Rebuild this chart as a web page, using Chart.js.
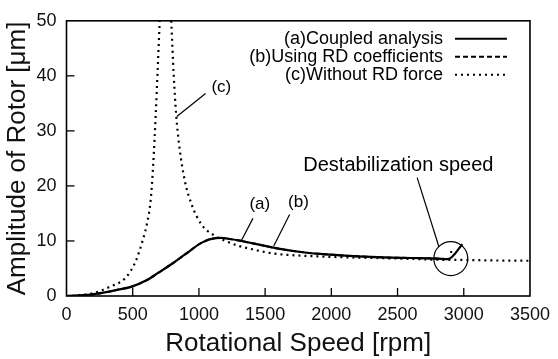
<!DOCTYPE html>
<html>
<head>
<meta charset="utf-8">
<script src="https://cdn.jsdelivr.net/npm/chart.js@4.4.1/dist/chart.umd.min.js"></script>
<style>
  html, body { margin: 0; padding: 0; background: #fff; }
</style>
</head>
<body>
<canvas id="grafico" width="558" height="359"></canvas>
<script>
// valores
const speedA = [0, 100, 200, 300, 400, 487, 600, 698, 800, 898, 1022, 1122, 1170, 1220, 1300, 1400, 1500, 1600, 1800, 2000, 2200, 2400, 2600, 2800, 2880, 2990];
const ampA   = [0, 0.1, 0.3, 0.7, 1.2, 1.65, 2.8, 4.3, 5.9, 7.6, 9.7, 10.5, 10.55, 10.4, 10.1, 9.6, 9.1, 8.6, 7.9, 7.5, 7.2, 7.0, 6.9, 6.8, 6.7, 9.4];

const speedB = [0, 100, 200, 300, 400, 487, 600, 698, 800, 898, 1022, 1122, 1170, 1220, 1300, 1400, 1500, 1600, 1800, 2000, 2200, 2400, 2600, 2800, 2880];
const ampB   = [0, 0.1, 0.3, 0.7, 1.2, 1.65, 2.8, 4.3, 5.9, 7.6, 9.7, 10.5, 10.55, 10.4, 10.1, 9.6, 9.1, 8.6, 7.9, 7.5, 7.2, 7.0, 6.9, 6.8, 6.7];

const speedC = [0, 100, 200, 325, 450, 524, 574, 611, 636, 655, 674, 690, 704, 748, 791, 810, 828, 853, 893, 947, 1022, 1109, 1200, 1300, 1400, 1570, 1800, 2000, 2340, 2600, 2790, 3000, 3250, 3500];
const ampC   = [0, 0.15, 0.5, 1.65, 3.4, 6.4, 10.0, 13.5, 17.5, 24.0, 33.0, 42.0, 50.0, null, 50.0, 40.0, 33.0, 27.0, 21.0, 16.5, 12.9, 11.1, 10.0, 9.1, 8.5, 7.7, 7.3, 7.1, 6.9, 6.75, 6.6, 6.55, 6.45, 6.4];

const xTicks = [0, 500, 1000, 1500, 2000, 2500, 3000, 3500];
const yTicks = [0, 10, 20, 30, 40, 50];

const nomes = ['(a)Coupled analysis', '(b)Using RD coefficients', '(c)Without RD force'];

const FONTE = '"Liberation Sans", Arial, Helvetica, sans-serif';

function pontos(xs, ys) {
    return xs.map(function (x, i) { return { x: x, y: ys[i] }; });
}

// molduras, marcas internas, legenda e anotações
const extras = {
    id: 'extras',
    afterDraw(chart) {
        const c = chart.ctx;
        const a = chart.chartArea;
        const sx = chart.scales.x;
        const sy = chart.scales.y;
        c.save();
        c.strokeStyle = '#000';
        c.lineWidth = 1.6;
        c.setLineDash([]);
        c.strokeRect(a.left, a.top, a.right - a.left, a.bottom - a.top);
        // ticks para dentro
        c.lineWidth = 1.3;
        xTicks.forEach(function (v) {
            if (v == 0 || v == 3500) return;
            const px = sx.getPixelForValue(v);
            c.beginPath(); c.moveTo(px, a.bottom); c.lineTo(px, a.bottom - 8); c.stroke();
        });
        yTicks.forEach(function (v) {
            if (v == 0 || v == 50) return;
            const py = sy.getPixelForValue(v);
            c.beginPath(); c.moveTo(a.left, py); c.lineTo(a.left + 8, py); c.stroke();
        });

        // legenda
        c.font = '18px ' + FONTE;
        c.fillStyle = '#000';
        c.textAlign = 'right';
        c.textBaseline = 'middle';
        chart.data.datasets.forEach(function (ds, i) {
            const y = a.top + 18 + i * 18;
            c.fillText(ds.label, a.right - 87, y);
            c.lineWidth = 2;
            c.setLineDash(ds.borderDash || []);
            c.beginPath(); c.moveTo(a.right - 75, y); c.lineTo(a.right - 23, y); c.stroke();
        });
        c.setLineDash([]);

        // anotações
        c.lineWidth = 1.2;
        c.textAlign = 'center';
        c.font = '17px ' + FONTE;
        function linha(x1, y1, x2, y2) {
            c.beginPath();
            c.moveTo(sx.getPixelForValue(x1), sy.getPixelForValue(y1));
            c.lineTo(sx.getPixelForValue(x2), sy.getPixelForValue(y2));
            c.stroke();
        }
        function texto(t, x, y) {
            c.fillText(t, sx.getPixelForValue(x), sy.getPixelForValue(y));
        }
        texto('(c)', 1169, 37.9);
        linha(1050, 36.8, 833, 32.6);
        texto('(a)', 1460, 16.7);
        linha(1408, 14.1, 1319, 10.0);
        texto('(b)', 1752, 17.1);
        linha(1685, 14.8, 1565, 9.1);
        c.font = '20px ' + FONTE;
        texto('Destabilization speed', 2506, 23.7);
        linha(2648, 21.5, 2813, 8.9);
        c.beginPath();
        c.arc(sx.getPixelForValue(2902), sy.getPixelForValue(6.8), 17, 0, Math.PI * 2);
        c.stroke();
        c.fillRect(sx.getPixelForValue(2905) - 1, sy.getPixelForValue(8.0) - 1, 2, 2);
        c.restore();
    }
};

const ctx = document.getElementById('grafico');

new Chart(ctx, {
    type: 'line',
    data: {
        datasets: [{
            label: nomes[0],
            data: pontos(speedA, ampA),
            borderColor: '#000',
            borderWidth: 2.2,
            pointRadius: 0,
            cubicInterpolationMode: 'monotone'
        }, {
            label: nomes[1],
            data: pontos(speedB, ampB),
            borderColor: '#000',
            borderWidth: 2,
            borderDash: [5, 3],
            pointRadius: 0,
            cubicInterpolationMode: 'monotone'
        }, {
            label: nomes[2],
            data: pontos(speedC, ampC),
            borderColor: '#000',
            borderWidth: 2.2,
            borderDash: [2, 4],
            pointRadius: 0,
            spanGaps: false,
            cubicInterpolationMode: 'monotone'
        }]
    },
    options: {
        responsive: false,
        animation: false,
        devicePixelRatio: 1,
        layout: { padding: { top: 15, right: 23, left: 0, bottom: 0 } },
        plugins: { legend: { display: false }, tooltip: { enabled: false } },
        scales: {
            x: {
                type: 'linear',
                min: 0,
                max: 3500,
                afterBuildTicks: function (s) { s.ticks = xTicks.map(function (v) { return { value: v }; }); },
                afterFit: function (s) { s.height = 63; },
                grid: { display: false, drawTicks: false },
                border: { display: false },
                ticks: { padding: 8, color: '#111', font: { family: FONTE, size: 18 }, maxRotation: 0, autoSkip: false,
                         callback: function (v) { return String(v); } },
                title: { display: true, text: 'Rotational Speed [rpm]', color: '#111', font: { family: FONTE, size: 26 }, padding: { top: 0, bottom: 0 } }
            },
            y: {
                min: 0,
                max: 50,
                afterBuildTicks: function (s) { s.ticks = yTicks.map(function (v) { return { value: v }; }); },
                afterFit: function (s) { s.width = 66.5; },
                grid: { display: false, drawTicks: false },
                border: { display: false },
                ticks: { padding: 10, color: '#111', font: { family: FONTE, size: 18 }, autoSkip: false,
                         callback: function (v) { return String(v); } },
                title: { display: true, text: 'Amplitude of Rotor [μm]', color: '#111', font: { family: FONTE, size: 26 }, padding: { top: 2, bottom: 0 } }
            }
        }
    },
    plugins: [extras]
});
</script>
</body>
</html>
